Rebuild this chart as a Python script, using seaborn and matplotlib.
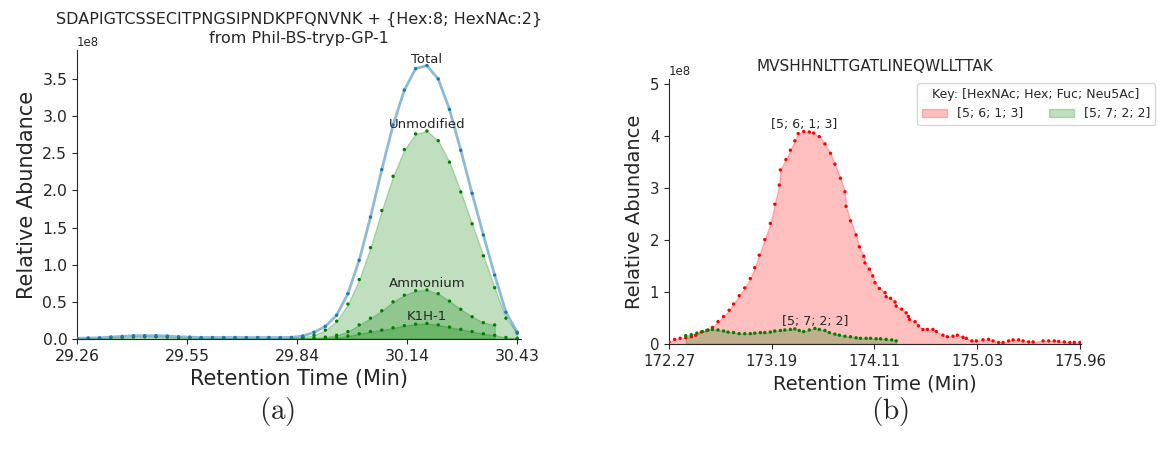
import matplotlib
matplotlib.use("Agg")
import matplotlib.pyplot as plt
import seaborn as sns

# -----------------------------
# Data (abundance in units of 1e8)
# -----------------------------
SCALE = 1e8

# (a) SDAPIGTCSSECITPNGSIPNDKPFQNVNK
times_a = [29.26, 29.29, 29.32, 29.35, 29.38, 29.41, 29.44, 29.47, 29.50, 29.53,
           29.56, 29.59, 29.62, 29.65, 29.68, 29.71, 29.74, 29.77, 29.80, 29.83,
           29.86, 29.89, 29.92, 29.95, 29.98, 30.01, 30.04, 30.07, 30.10, 30.13,
           30.16, 30.19, 30.22, 30.25, 30.28, 30.31, 30.34, 30.37, 30.40, 30.43]

total_a = [0.010, 0.013, 0.015, 0.027, 0.035, 0.044, 0.045, 0.045, 0.040, 0.030,
           0.025, 0.020, 0.020, 0.020, 0.020, 0.020, 0.020, 0.020, 0.020, 0.022,
           0.040, 0.090, 0.170, 0.320, 0.610, 1.060, 1.640, 2.280, 2.880, 3.350,
           3.640, 3.680, 3.500, 3.090, 2.540, 1.960, 1.400, 0.860, 0.360, 0.090]

unmodified_a = [0.005, 0.008, 0.010, 0.018, 0.022, 0.028, 0.030, 0.030, 0.026, 0.020,
                0.016, 0.012, 0.012, 0.012, 0.012, 0.012, 0.012, 0.012, 0.012, 0.014,
                0.025, 0.050, 0.120, 0.240, 0.470, 0.800, 1.230, 1.730, 2.190, 2.550,
                2.760, 2.800, 2.670, 2.380, 1.980, 1.550, 1.120, 0.690, 0.280, 0.080]

# Ammonium covers 29.83 .. 30.37, K1H-1 covers 29.83 .. 30.43
ammonium_a = [0.003, 0.006, 0.012, 0.025, 0.050, 0.100, 0.190, 0.280, 0.380, 0.500,
              0.590, 0.650, 0.660, 0.610, 0.510, 0.400, 0.300, 0.220, 0.190]
k1h_a = [0.002, 0.005, 0.008, 0.012, 0.020, 0.040, 0.070, 0.100, 0.120, 0.150,
         0.180, 0.200, 0.210, 0.190, 0.160, 0.130, 0.100, 0.070, 0.050, 0.020, 0.010]

xticks_a = [29.26, 29.5525, 29.845, 30.1375, 30.43]
xticklabels_a = ["29.26", "29.55", "29.84", "30.14", "30.43"]

# (b) MVSHHNLTTGATLINEQWLLTTAK
times_red = [172.27, 172.32, 172.37, 172.42, 172.47, 172.51, 172.56, 172.61, 172.66, 172.71,
             172.76, 172.81, 172.85, 172.90, 172.95, 173.00, 173.04, 173.08, 173.13, 173.18,
             173.22, 173.26, 173.27, 173.32, 173.36, 173.40, 173.43, 173.48, 173.53, 173.57,
             173.62, 173.67, 173.72, 173.76, 173.81, 173.85, 173.86, 173.90, 173.95, 173.98,
             174.02, 174.03, 174.07, 174.10, 174.12, 174.16, 174.21, 174.22, 174.26, 174.30,
             174.31, 174.36, 174.40, 174.42, 174.43, 174.48, 174.51, 174.55, 174.59, 174.64,
             174.67, 174.73, 174.77, 174.82, 174.86, 174.91, 174.94, 174.99, 175.03, 175.09,
             175.14, 175.18, 175.23, 175.27, 175.32, 175.36, 175.41, 175.45, 175.50, 175.54,
             175.63, 175.68, 175.73, 175.77, 175.82, 175.87, 175.91, 175.96]
red_vals = [0.04, 0.09, 0.11, 0.12, 0.14, 0.17, 0.23, 0.26, 0.32, 0.43,
            0.53, 0.65, 0.77, 0.93, 1.08, 1.26, 1.47, 1.71, 2.01, 2.32,
            2.69, 3.06, 3.35, 3.55, 3.73, 3.91, 4.05, 4.09, 4.08, 4.06,
            3.99, 3.85, 3.67, 3.46, 3.19, 2.93, 2.65, 2.37, 2.10, 1.87,
            1.69, 1.56, 1.44, 1.31, 1.18, 1.07, 0.99, 0.91, 0.88, 0.81,
            0.73, 0.67, 0.60, 0.53, 0.47, 0.43, 0.35, 0.28, 0.28, 0.28,
            0.24, 0.17, 0.14, 0.15, 0.17, 0.13, 0.11, 0.06, 0.06, 0.08,
            0.09, 0.06, 0.03, 0.03, 0.06, 0.08, 0.08, 0.06, 0.04, 0.04,
            0.06, 0.06, 0.06, 0.05, 0.04, 0.03, 0.03, 0.03]

times_green = [172.42, 172.47, 172.52, 172.57, 172.62, 172.66, 172.71, 172.76, 172.80, 172.85,
               172.90, 172.95, 173.00, 173.04, 173.09, 173.13, 173.18, 173.22, 173.27, 173.31,
               173.36, 173.40, 173.44, 173.48, 173.53, 173.58, 173.62, 173.67, 173.71, 173.76,
               173.80, 173.85, 173.90, 173.95, 173.99, 174.04, 174.08, 174.13, 174.17, 174.22,
               174.27, 174.31]
green_vals = [0.16, 0.18, 0.21, 0.24, 0.27, 0.28, 0.27, 0.25, 0.23, 0.22,
              0.20, 0.20, 0.20, 0.21, 0.22, 0.22, 0.23, 0.25, 0.26, 0.27,
              0.28, 0.29, 0.26, 0.24, 0.27, 0.30, 0.28, 0.26, 0.22, 0.19,
              0.17, 0.15, 0.14, 0.12, 0.11, 0.11, 0.11, 0.10, 0.10, 0.09,
              0.08, 0.06]

xticks_b = [172.27, 173.1925, 174.115, 175.0375, 175.96]
xticklabels_b = ["172.27", "173.19", "174.11", "175.03", "175.96"]

# -----------------------------
# Style
# -----------------------------
sns.set_style("ticks")
plt.rcParams["font.family"] = ["DejaVu Sans"]
plt.rcParams["mathtext.fontset"] = "cm"

W, H = 1163, 453
fig = plt.figure(figsize=(W / 100, H / 100), dpi=100)

ax1 = fig.add_axes([77 / W, 1 - 339 / H, 444 / W, 289 / H])
ax2 = fig.add_axes([669 / W, 1 - 344 / H, 412 / W, 265 / H])


def scaled(vals):
    return [v * SCALE for v in vals]


# =====================================================
# (a) glycoform chromatogram
# =====================================================
ammonium_start = 19
k1h_start = 19

series_a = [
    ("Unmodified", times_a, unmodified_a),
    ("Ammonium", times_a[ammonium_start:ammonium_start + len(ammonium_a)], ammonium_a),
    ("K1H-1", times_a[k1h_start:k1h_start + len(k1h_a)], k1h_a),
]

for name, xs, ys in series_a:
    ax1.fill_between(xs, scaled(ys), color="green", alpha=0.25, linewidth=1)
    sns.scatterplot(x=xs, y=scaled(ys), ax=ax1, color="green", s=6,
                    edgecolor="none", legend=False, zorder=3)
    peak = ys.index(max(ys))
    ax1.text(xs[peak], ys[peak] * SCALE, name, ha="center", va="bottom",
             fontsize=9.5, color=".15")

sns.lineplot(x=times_a, y=scaled(total_a), ax=ax1, color="C0", alpha=0.5,
             linewidth=2, legend=False)
sns.scatterplot(x=times_a, y=scaled(total_a), ax=ax1, color="C0", s=6,
                edgecolor="none", legend=False, zorder=3)
peak = total_a.index(max(total_a))
ax1.text(times_a[peak], total_a[peak] * SCALE, "Total", ha="center", va="bottom",
         fontsize=9.5, color=".15")

ax1.set_xlim(29.26, 30.44)
ax1.set_ylim(0, 3.89 * SCALE)
ax1.set_xticks(xticks_a)
ax1.set_xticklabels(xticklabels_a)
ax1.tick_params(labelsize=11.3)
ax1.yaxis.get_offset_text().set_fontsize(8.5)
ax1.set_xlabel("Retention Time (Min)", fontsize=15)
ax1.set_ylabel("Relative Abundance", fontsize=15)

# two-line title, drawn as two texts
ax1.set_title("from Phil-BS-tryp-GP-1", fontsize=11.5, y=1.0, pad=5)
ax1.annotate("SDAPIGTCSSECITPNGSIPNDKPFQNVNK + {Hex:8; HexNAc:2}",
             xy=(0.5, 1.0), xycoords="axes fraction", xytext=(0, 19),
             textcoords="offset points", ha="center", va="baseline",
             fontsize=11.5, color=".15")

# =====================================================
# (b) two glycoforms
# =====================================================
ax2.fill_between(times_red, scaled(red_vals), color="red", alpha=0.25, linewidth=1,
                 label="[5; 6; 1; 3]")
sns.scatterplot(x=times_red, y=scaled(red_vals), ax=ax2, color="red", s=6,
                edgecolor="none", legend=False, zorder=3)
ax2.fill_between(times_green, scaled(green_vals), color="green", alpha=0.25, linewidth=1,
                 label="[5; 7; 2; 2]")
sns.scatterplot(x=times_green, y=scaled(green_vals), ax=ax2, color="green", s=6,
                edgecolor="none", legend=False, zorder=3)

peak = red_vals.index(max(red_vals))
ax2.text(times_red[peak], red_vals[peak] * SCALE, "[5; 6; 1; 3]", ha="center",
         va="bottom", fontsize=9, color=".15")
peak = green_vals.index(max(green_vals))
ax2.text(times_green[peak], green_vals[peak] * SCALE, "[5; 7; 2; 2]", ha="center",
         va="bottom", fontsize=9, color=".15")

ax2.set_xlim(172.27, 175.97)
ax2.set_ylim(0, 5.1 * SCALE)
ax2.set_xticks(xticks_b)
ax2.set_xticklabels(xticklabels_b)
ax2.tick_params(labelsize=10.7)
ax2.yaxis.get_offset_text().set_fontsize(8.5)
ax2.set_xlabel("Retention Time (Min)", fontsize=14)
ax2.set_ylabel("Relative Abundance", fontsize=14)
ax2.set_title("MVSHHNLTTGATLINEQWLLTTAK", fontsize=11)
ax2.legend(title="Key: [HexNAc; Hex; Fuc; Neu5Ac]", ncol=2, loc="upper right",
           bbox_to_anchor=(1155 / W, 1 - 83 / H), bbox_transform=fig.transFigure,
           borderaxespad=0, fontsize=9, title_fontsize=9, frameon=True)

sns.despine(fig=fig)

# -----------------------------
# Sub-figure captions
# -----------------------------
fig.text(277 / W, 1 - 411 / H, r"$\mathrm{(a)}$", ha="center", va="center", fontsize=21)
fig.text(890 / W, 1 - 411 / H, r"$\mathrm{(b)}$", ha="center", va="center", fontsize=21)

fig.savefig("out.png", dpi=100)
